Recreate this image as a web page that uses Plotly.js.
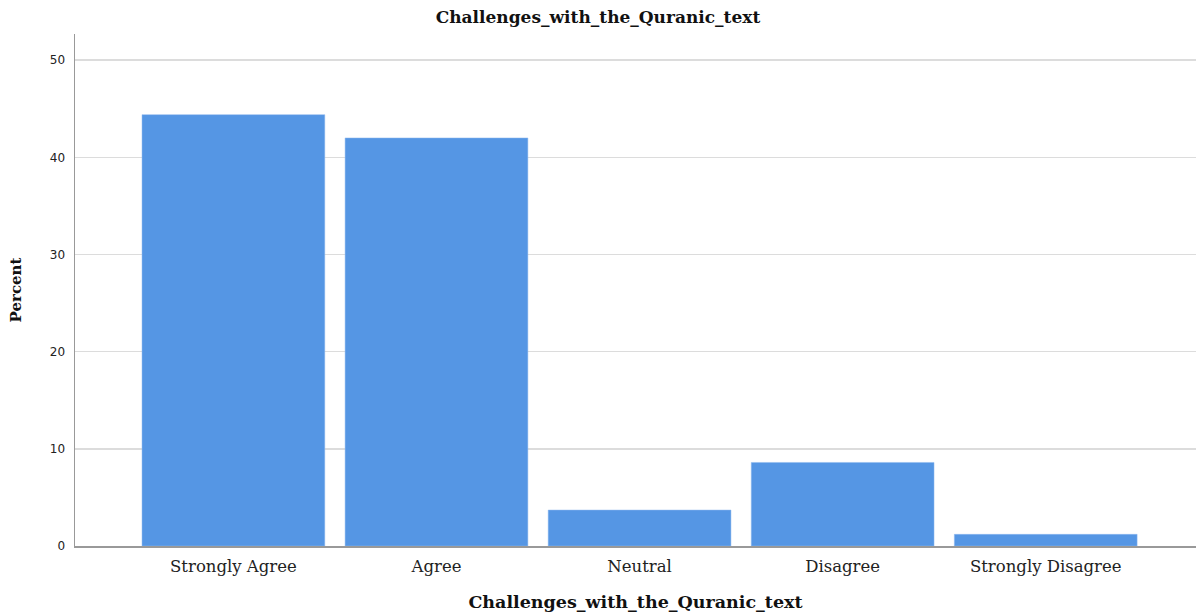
<!DOCTYPE html>
<html><head><meta charset="utf-8">
<script src="https://cdn.plot.ly/plotly-3.0.1.min.js"></script>
<style>html,body{margin:0;padding:0;background:#fff}#chart{width:1196px;height:616px}</style>
</head><body><div id="chart"></div>
<script>
const categories = ["Strongly Agree", "Agree", "Neutral", "Disagree", "Strongly Disagree"];
const percents = [44.4, 42.0, 3.7, 8.6, 1.2];
const yTicks = [0, 10, 20, 30, 40, 50];

const trace = {
  type: "bar",
  x: categories,
  y: percents,
  marker: {color: "#5596e4", line: {color: "#8fb8ee", width: 0.5}},
  hoverinfo: "x+y"
};
const layout = {
  width: 1196, height: 616,
  margin: {l: 75, r: 0, t: 34, b: 70},
  paper_bgcolor: "#fff", plot_bgcolor: "#fff",
  bargap: 0.1,
  showlegend: false,
  title: {text: "<b>Challenges_with_the_Quranic_text</b>", x: 0.5, xanchor: "center", y: 0.982, yanchor: "top",
          font: {family: "DejaVu Serif", size: 17, color: "#111"}},
  xaxis: {
    type: "category", range: [-0.78, 4.74],
    showline: true, linecolor: "#999", linewidth: 2,
    ticks: "", showgrid: false,
    tickfont: {family: "DejaVu Serif", size: 16.5, color: "#222"},
    ticklabelstandoff: 4,
    title: {text: "<b>Challenges_with_the_Quranic_text</b>", standoff: 21,
            font: {family: "DejaVu Serif", size: 17.5, color: "#111"}}
  },
  yaxis: {
    range: [0, 52.7], tickvals: yTicks, ticktext: yTicks.map(String),
    showline: true, linecolor: "#999", linewidth: 1.5,
    ticks: "", showgrid: true, gridcolor: "#dcdcdc", gridwidth: 1.5, zeroline: false,
    tickfont: {family: "DejaVu Sans", size: 12, color: "#222"},
    ticklabelstandoff: 6,
    title: {text: "<b>Percent</b>", standoff: 24,
            font: {family: "DejaVu Serif", size: 15, color: "#111"}}
  }
};
Plotly.newPlot("chart", [trace], layout, {displayModeBar: false, staticPlot: true});
</script></body></html>
